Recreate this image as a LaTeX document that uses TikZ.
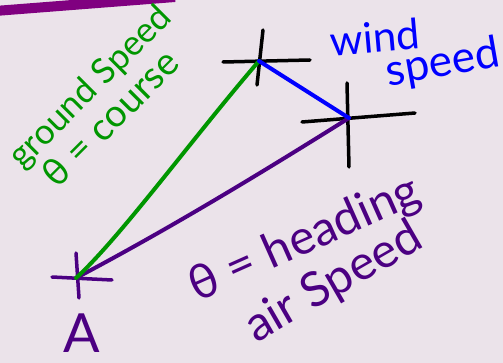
\documentclass[tikz,border=0pt]{standalone}
\usepackage{fontspec}
\setmainfont{Lato}
\definecolor{bg}{RGB}{235,227,234}
\definecolor{gr}{RGB}{0,150,0}
\definecolor{bl}{RGB}{0,0,255}
\definecolor{pu}{RGB}{75,0,130}
\definecolor{tp}{RGB}{128,0,128}
\tikzset{
  crossline/.style={line width=3.5pt,line cap=round},
  vec/.style={line width=4pt,line cap=round},
  hw/.style={inner sep=0pt},
}
\begin{document}
\begin{tikzpicture}[x=1pt,y=-1pt]
\fill[bg] (0,0) rectangle (503,363);
\useasboundingbox (0,0) rectangle (503,363);
\draw[tp,line width=10pt] (-5,11) -- (175,-3);
% points
\coordinate (A) at (76,278);
\coordinate (T) at (259,61);
\coordinate (W) at (349,118);
% crosses
\draw[crossline,black] (223,62) -- (310,60);
\draw[crossline,black] (263,30) -- (257,85);
\draw[crossline,black] (302,122) -- (415,113);
\draw[crossline,black] (347,83) -- (349,167);
\draw[crossline,pu] (52,277) -- (112,280);
\draw[crossline,pu] (76,253) -- (79,298);
% vectors
\draw[vec,pu] (A) .. controls (167,230) and (258,175) .. (W);
\draw[vec,gr] (A) .. controls (120,238) and (195,135) .. (T);
\draw[vec,bl] (T) -- (W);
% labels
\node[hw,gr,rotate=45,font=\fontsize{35}{35}\selectfont] (gs) at (91,88) {ground Speed};
\node[hw,gr,rotate=45,font=\fontsize{38}{38}\selectfont] (cs) at (110,118) {θ = course};
\node[hw,bl,rotate=5,font=\fontsize{42}{42}\selectfont] (wd) at (375,37) {wind};
\node[hw,bl,rotate=10,font=\fontsize{44}{44}\selectfont] (sp) at (443,64) {speed};
\node[hw,pu,rotate=24,font=\fontsize{48}{48}\selectfont] (hd) at (305,240) {θ = heading};
\node[hw,pu,rotate=30,font=\fontsize{48}{48}\selectfont] (as) at (334,283) {air Speed};
\node[pu,inner sep=0pt,anchor=base,font=\fontsize{54}{54}\selectfont] (la) at (82,352) {A};
\end{tikzpicture}
\end{document}
